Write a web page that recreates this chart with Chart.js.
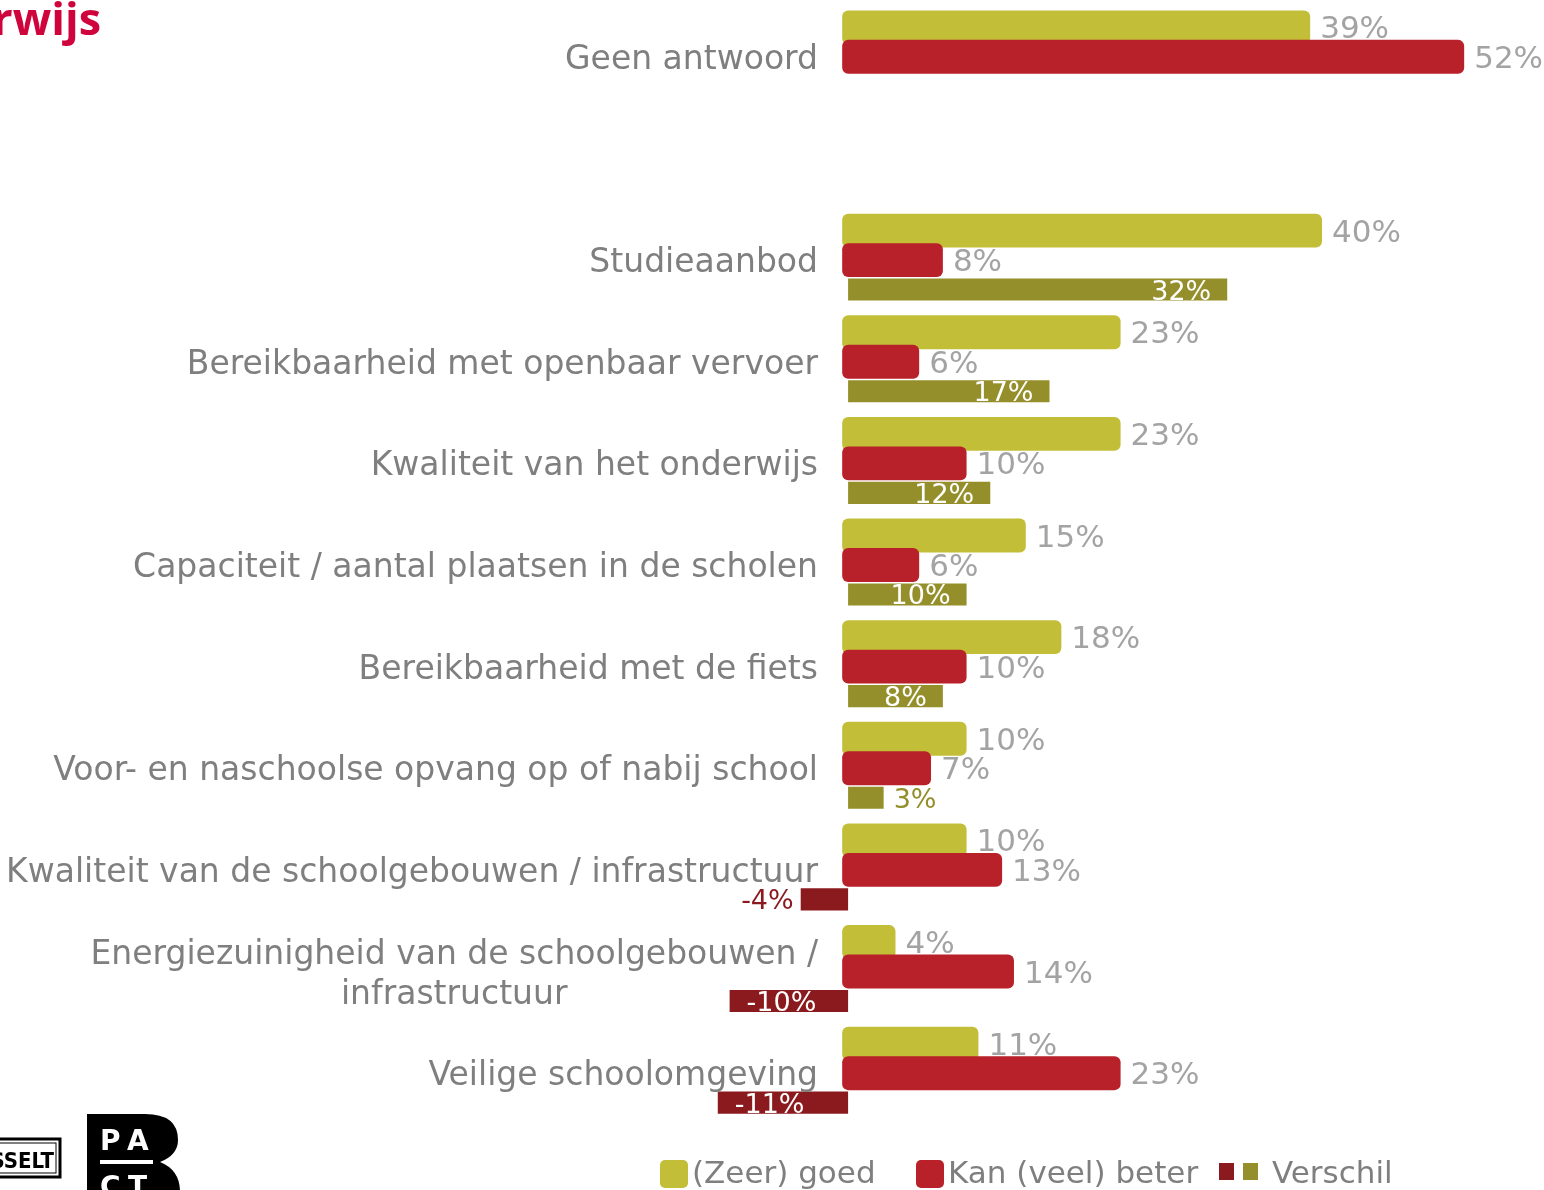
<!DOCTYPE html>
<html lang="nl">
<head>
    <meta charset="UTF-8">
    <title>Onderwijs - tevredenheid</title>
    <script src="https://cdn.jsdelivr.net/npm/chart.js"></script>
    <style>
        html, body { margin: 0; padding: 0; background: #fff; }
        .chart-wrap { width: 1544px; height: 1190px; }
    </style>
</head>
<body>
<div class="chart-wrap">
    <canvas id="schoolChart" width="1544" height="1190"></canvas>
</div>

<script>
    // Data
    const categories = [
        'Geen antwoord',
        '',
        'Studieaanbod',
        'Bereikbaarheid met openbaar vervoer',
        'Kwaliteit van het onderwijs',
        'Capaciteit / aantal plaatsen in de scholen',
        'Bereikbaarheid met de fiets',
        'Voor- en naschoolse opvang op of nabij school',
        'Kwaliteit van de schoolgebouwen / infrastructuur',
        ['Energiezuinigheid van de schoolgebouwen /', 'infrastructuur'],
        'Veilige schoolomgeving'
    ];
    const seriesNames = ['(Zeer) goed', 'Kan (veel) beter', 'Verschil'];
    const goedValues = [39, null, 40, 23, 23, 15, 18, 10, 10, 4, 11];
    const beterValues = [52, null, 8, 6, 10, 6, 10, 7, 13, 14, 23];
    const verschilValues = [null, null, 32, 17, 12, 10, 8, 3, -4, -10, -11];

    const COLORS = {
        goed: '#c3be38',
        beter: '#b82129',
        verschilPos: '#948f2b',
        verschilNeg: '#8b1a1e',
        label: '#7f7f7f',
        value: '#a3a3a3',
        title: '#d0043c'
    };
    const FONT = '"DejaVu Sans", sans-serif';

    // goed bars must sit under the red ones where they overlap
    const drawOrder = {
        id: 'drawOrder',
        beforeDatasetDraw(chart, args) {
            if (args.index === 0) return false;
            if (args.index === 1) chart.getDatasetMeta(0).controller.draw();
        }
    };

    // category labels, block right-aligned, lines centred
    const categoryLabels = {
        id: 'categoryLabels',
        afterDraw(chart) {
            const ctx = chart.ctx;
            const yScale = chart.scales.y;
            const right = 818;
            const lineH = 40;
            ctx.save();
            ctx.font = '33px ' + FONT;
            ctx.fillStyle = COLORS.label;
            ctx.textAlign = 'center';
            ctx.textBaseline = 'alphabetic';
            categories.forEach((cat, i) => {
                const lines = Array.isArray(cat) ? cat : [cat];
                if (!lines[0]) return;
                const w = Math.max(...lines.map(l => ctx.measureText(l).width));
                const cx = right - w / 2;
                const cy = yScale.getPixelForValue(i);
                lines.forEach((l, j) => {
                    const y = cy - (lines.length - 1) * lineH / 2 + j * lineH;
                    ctx.fillText(l, cx, y + 12);
                });
            });
            ctx.restore();
        }
    };

    // value labels next to / inside the bars
    const valueLabels = {
        id: 'valueLabels',
        afterDatasetsDraw(chart) {
            const ctx = chart.ctx;
            ctx.save();
            ctx.textBaseline = 'alphabetic';
            chart.data.datasets.forEach((ds, di) => {
                const meta = chart.getDatasetMeta(di);
                meta.data.forEach((bar, i) => {
                    const v = ds.data[i];
                    if (v === null || v === undefined) return;
                    const txt = v + '%';
                    if (di < 2) {
                        ctx.font = '31px ' + FONT;
                        ctx.fillStyle = COLORS.value;
                        ctx.textAlign = 'left';
                        ctx.fillText(txt, bar.x + 10, bar.y + 11);
                        return;
                    }
                    ctx.font = '27px ' + FONT;
                    const tw = ctx.measureText(txt).width;
                    const len = Math.abs(bar.x - bar.base);
                    const inside = len > tw + 20;
                    if (v >= 0) {
                        if (inside) {
                            ctx.fillStyle = '#fff';
                            ctx.textAlign = 'right';
                            ctx.fillText(txt, bar.x - 16, bar.y + 10);
                        } else {
                            ctx.fillStyle = COLORS.verschilPos;
                            ctx.textAlign = 'left';
                            ctx.fillText(txt, bar.x + 10, bar.y + 10);
                        }
                    } else {
                        if (inside) {
                            ctx.fillStyle = '#fff';
                            ctx.textAlign = 'left';
                            ctx.fillText(txt, bar.x + 17, bar.y + 10);
                        } else {
                            ctx.fillStyle = COLORS.verschilNeg;
                            ctx.textAlign = 'right';
                            ctx.fillText(txt, bar.x - 7, bar.y + 10);
                        }
                    }
                });
            });
            ctx.restore();
        }
    };

    // title fragment, logos and legend
    const decorations = {
        id: 'decorations',
        afterDraw(chart) {
            const ctx = chart.ctx;
            ctx.save();

            // title (cut off at the left edge)
            ctx.font = 'bold 45px "Open Sans", sans-serif';
            ctx.fillStyle = COLORS.title;
            ctx.textAlign = 'right';
            ctx.fillText('Onderwijs', 101, 35);

            // Hasselt logo
            ctx.strokeStyle = '#000';
            ctx.lineWidth = 3;
            ctx.strokeRect(-40, 1139, 100, 38);
            ctx.lineWidth = 1;
            ctx.strokeRect(-40, 1143, 96, 30);
            ctx.fillStyle = '#000';
            ctx.font = 'bold 22px "Liberation Sans Narrow", "DejaVu Sans Condensed", sans-serif';
            ctx.fillText('HASSELT', 54, 1168);

            // PACT logo
            ctx.beginPath();
            ctx.moveTo(87, 1114);
            ctx.lineTo(145, 1114);
            ctx.quadraticCurveTo(178, 1114, 178, 1140);
            ctx.quadraticCurveTo(178, 1155, 160, 1162);
            ctx.quadraticCurveTo(180, 1170, 180, 1192);
            ctx.lineTo(87, 1192);
            ctx.closePath();
            ctx.fill();
            ctx.fillStyle = '#fff';
            ctx.font = 'bold 28px "DejaVu Sans", sans-serif';
            ctx.textAlign = 'left';
            ctx.fillText('P', 100, 1150);
            ctx.fillText('A', 127, 1150);
            ctx.fillRect(100, 1160, 53, 4);
            ctx.fillText('C', 100, 1196);
            ctx.fillText('T', 128, 1196);

            // legend
            ctx.font = '31px ' + FONT;
            const roundBox = (x, y, w, h, color) => {
                ctx.fillStyle = color;
                ctx.beginPath();
                ctx.roundRect(x, y, w, h, 5);
                ctx.fill();
            };
            roundBox(660, 1160, 28, 28, COLORS.goed);
            roundBox(916, 1160, 28, 28, COLORS.beter);
            ctx.fillStyle = COLORS.verschilNeg;
            ctx.fillRect(1219, 1163, 15, 17);
            ctx.fillStyle = COLORS.verschilPos;
            ctx.fillRect(1243, 1163, 15, 17);
            ctx.fillStyle = COLORS.label;
            ctx.textAlign = 'left';
            ctx.fillText(seriesNames[0], 692, 1183);
            ctx.fillText(seriesNames[1], 948, 1183);
            ctx.fillText(seriesNames[2], 1272, 1183);

            ctx.restore();
        }
    };

    const ctx = document.getElementById('schoolChart').getContext('2d');
    new Chart(ctx, {
        type: 'bar',
        data: {
            labels: categories,
            datasets: [
                {
                    label: seriesNames[0],
                    data: goedValues,
                    backgroundColor: COLORS.goed,
                    borderRadius: 6,
                    borderSkipped: false,
                    barPercentage: 1.15,
                    base: -0.5
                },
                {
                    label: seriesNames[1],
                    data: beterValues,
                    backgroundColor: COLORS.beter,
                    borderRadius: 6,
                    borderSkipped: false,
                    barPercentage: 1.15,
                    base: -0.5
                },
                {
                    label: seriesNames[2],
                    data: verschilValues,
                    backgroundColor: c => (c.raw < 0 ? COLORS.verschilNeg : COLORS.verschilPos),
                    barPercentage: 0.75
                }
            ]
        },
        options: {
            indexAxis: 'y',
            responsive: false,
            animation: false,
            devicePixelRatio: 1,
            categoryPercentage: 0.87,
            layout: {
                padding: { left: 700, right: 4, top: 6, bottom: 66 }
            },
            scales: {
                x: { display: false, min: -12.5, max: 58.4 },
                y: { display: false }
            },
            plugins: {
                legend: { display: false },
                tooltip: { enabled: false }
            }
        },
        plugins: [drawOrder, valueLabels, categoryLabels, decorations]
    });
</script>
</body>
</html>
